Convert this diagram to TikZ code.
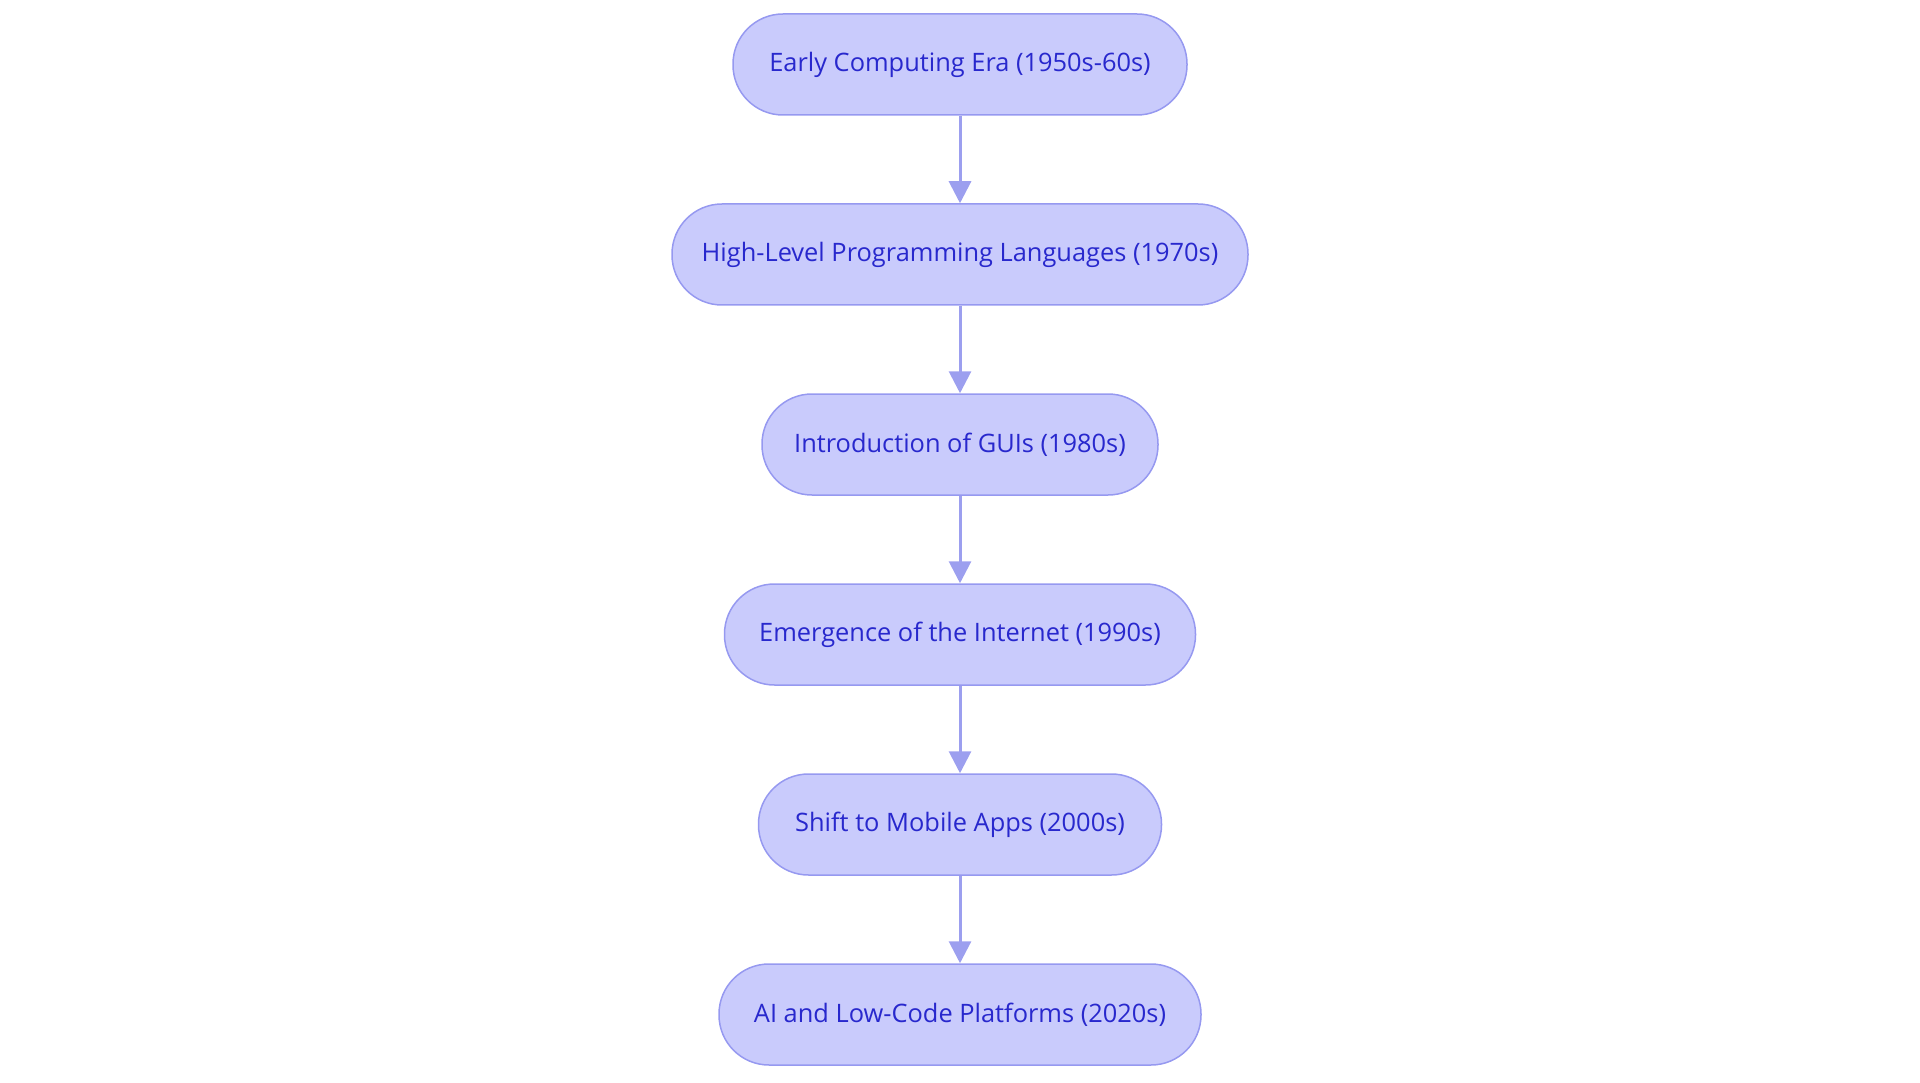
\documentclass[tikz,border=0pt]{standalone}
\usepackage{fontspec}
\setmainfont{Open Sans}
\usetikzlibrary{arrows.meta}
\definecolor{nodefill}{RGB}{201,203,252}
\definecolor{nodeline}{RGB}{150,153,240}
\definecolor{nodetext}{RGB}{40,40,205}
\definecolor{arrowcol}{RGB}{156,159,239}
\tikzset{
  stagebox/.style={draw=nodeline, fill=nodefill, line width=1.5pt,
    rounded corners=50pt, minimum height=101pt, inner sep=0pt,
    text=nodetext, font=\fontsize{25.4}{30}\selectfont},
  flowarrow/.style={draw=arrowcol, line width=3pt,
    -{Triangle[length=22pt,width=22pt]}}
}
\begin{document}
\begin{tikzpicture}[x=1pt,y=1pt]
\useasboundingbox (0,0) rectangle (1920,-1083);
\node[stagebox, minimum width=454pt] (n1) at (960,-64.5) {Early Computing Era (1950s-60s)};
\node[stagebox, minimum width=576pt] (n2) at (960,-254.5) {High-Level Programming Languages (1970s)};
\node[stagebox, minimum width=396pt] (n3) at (960,-444.5) {Introduction of GUIs (1980s)};
\node[stagebox, minimum width=471pt] (n4) at (960,-634.5) {Emergence of the Internet (1990s)};
\node[stagebox, minimum width=403pt] (n5) at (960,-824.5) {Shift to Mobile Apps (2000s)};
\node[stagebox, minimum width=482pt] (n6) at (960,-1014.5) {AI and Low-Code Platforms (2020s)};
\draw[flowarrow] (n1.south) -- (n2.north);
\draw[flowarrow] (n2.south) -- (n3.north);
\draw[flowarrow] (n3.south) -- (n4.north);
\draw[flowarrow] (n4.south) -- (n5.north);
\draw[flowarrow] (n5.south) -- (n6.north);
\end{tikzpicture}
\end{document}
